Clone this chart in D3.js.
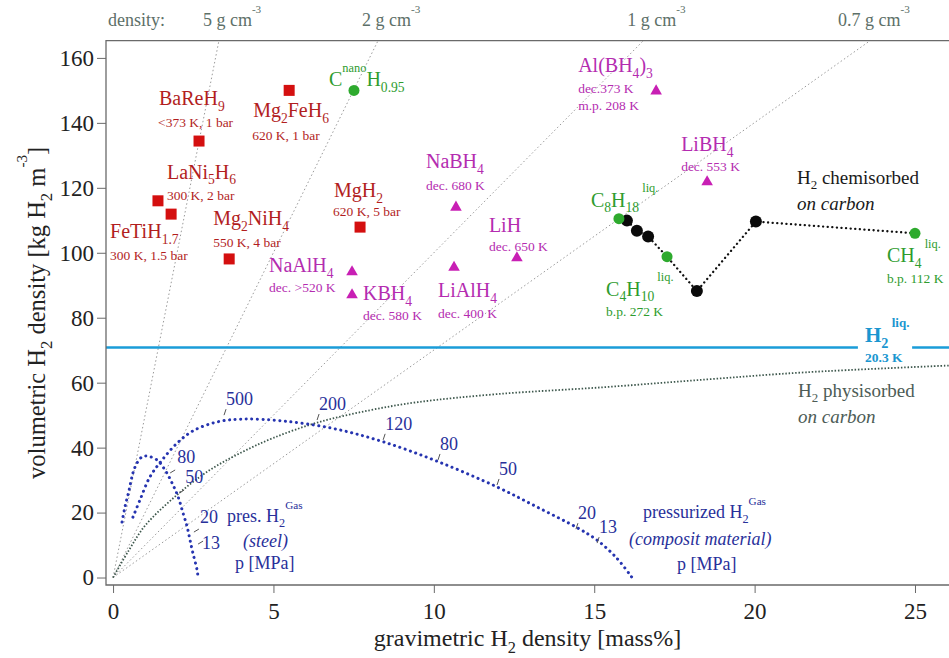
<!DOCTYPE html>
<html>
<head>
<meta charset="utf-8">
<script src="https://cdn.jsdelivr.net/npm/d3@7"></script>
<style>
  body { margin: 0; background: #fff; }
</style>
</head>
<body>
<div id="chart"></div>
<script>
// ---- data ----
const xTicks = [0, 5, 10, 15, 20, 25];
const yTicks = [0, 20, 40, 60, 80, 100, 120, 140, 160];

const densityLabels = ["5 g cm^{-3}", "2 g cm^{-3}", "1 g cm^{-3}", "0.7 g cm^{-3}"];
const densityTopX = [3.3, 8.26, 16.53, 23.6];   // where each iso-density line meets the top frame

const metalHydrides = [
  { name: "BaReH_{9}",    cond: ["<373 K, 1 bar"],  x: 2.68, y: 134.4 },
  { name: "Mg_{2}FeH_{6}", cond: ["620 K, 1 bar"],  x: 5.49, y: 150.0 },
  { name: "LaNi_{5}H_{6}", cond: ["300 K, 2 bar"],  x: 1.40, y: 116.0 },
  { name: "FeTiH_{1.7}",  cond: ["300 K, 1.5 bar"], x: 1.81, y: 111.9 },
  { name: "Mg_{2}NiH_{4}", cond: ["550 K, 4 bar"],  x: 3.62, y: 98.1 },
  { name: "MgH_{2}",      cond: ["620 K, 5 bar"],   x: 7.70, y: 107.9 }
];

const complexHydrides = [
  { name: "NaAlH_{4}",     cond: ["dec. >520 K"], x: 7.45, y: 94.1 },
  { name: "KBH_{4}",       cond: ["dec. 580 K"],  x: 7.45, y: 87.0 },
  { name: "NaBH_{4}",      cond: ["dec. 680 K"],  x: 10.69, y: 114.0 },
  { name: "LiAlH_{4}",     cond: ["dec. 400 K"],  x: 10.63, y: 95.5 },
  { name: "LiH",           cond: ["dec. 650 K"],  x: 12.59, y: 98.4 },
  { name: "Al(BH_{4})_{3}", cond: ["dec.373 K", "m.p. 208 K"], x: 16.93, y: 149.8 },
  { name: "LiBH_{4}",      cond: ["dec. 553 K"],  x: 18.52, y: 121.8 }
];

const hydrocarbons = [
  { name: "C^{nano}H_{0.95}",     cond: [],             x: 7.51, y: 150.0 },
  { name: "C_{8}H_{18}^{ liq.}",  cond: [],             x: 15.77, y: 110.5 },
  { name: "C_{4}H_{10}^{ liq.}",  cond: ["b.p. 272 K"], x: 17.27, y: 98.8 },
  { name: "CH_{4}^{ liq.}",       cond: ["b.p. 112 K"], x: 25.0, y: 106.0 }
];

const chemisorbedDots = [[16.02, 109.9], [16.33, 106.8], [16.68, 105.0], [18.2, 88.2], [20.04, 109.6]];
const chemisorbedPath = [[15.77, 110.5], [16.02, 109.9], [16.33, 106.8], [16.68, 105.0], [17.27, 98.8],
                         [18.2, 88.2], [20.04, 109.6], [25.0, 106.0]];

const physisorbed = [[0, 0], [0.5, 8.5], [1, 16], [2, 25.5], [3, 33], [4, 38.5], [5, 43], [6.4, 47.8],
                     [8, 51.5], [9.5, 54], [12, 56.5], [15.3, 58.6], [18.5, 61], [21.6, 63.2], [26.1, 65.3]];

const steelCurve = [[0.28, 17.1], [0.37, 21.7], [0.5, 26.9], [0.62, 32.2], [0.75, 35.3], [0.9, 37.1],
                    [1.06, 37.4], [1.37, 36.2], [1.62, 33.1], [1.84, 29.1], [2.03, 24.8], [2.18, 19.9],
                    [2.31, 15.6], [2.40, 11.5], [2.49, 7.5], [2.62, 2.3], [2.65, 0]];

const compositeCurve = [[0.62, 18.6], [0.84, 23.9], [1.15, 31], [1.53, 36.2], [2.0, 41.4], [2.5, 45.2],
                        [3.24, 47.9], [4.05, 48.8], [5.3, 48.2], [6.86, 45.9], [8.42, 41.8], [10.13, 35.7],
                        [11.97, 27.9], [13.3, 21.3], [14.46, 15.4], [15.09, 11.5], [15.7, 6], [16.18, 0]];

const steelPressures = ["80", "50", "20", "13"];
const steelPressureAt = [[1.78, 32.2], [2.06, 26.0], [2.52, 14.0], [2.65, 10.3]];
const compositePressures = ["500", "200", "120", "80", "50", "20", "13"];
const compositePressureAt = [[3.46, 50.0], [6.36, 48.5], [8.42, 42.4], [10.13, 36.2], [11.97, 28.5], [14.43, 14.9], [15.09, 10.6]];

const liquidH2 = 70.8;
const liquidH2Gap = [23.22, 24.91];

// ---- layout ----
const width = 949, height = 658;
const frame = { left: 106, right: 949, top: 40.7, bottom: 585 };
const serif = "'Liberation Serif', 'DejaVu Serif', 'Times New Roman', Times, serif";

// label offsets (px from marker): first = name, rest = condition lines
const labelOffsets = {
  "BaReH_{9}": [[-40, -36], [-41, -14]],
  "Mg_{2}FeH_{6}": [[-36, 27], [-37, 50]],
  "LaNi_{5}H_{6}": [[9, -22], [9, -1]],
  "FeTiH_{1.7}": [[-61, 24], [-61, 46]],
  "Mg_{2}NiH_{4}": [[-16, -34], [-16, -12]],
  "MgH_{2}": [[-26, -30], [-27, -11]],
  "NaAlH_{4}": [[-83, 0], [-83, 20]],
  "KBH_{4}": [[11, 5], [11, 25]],
  "NaBH_{4}": [[-30, -39], [-30, -17]],
  "LiAlH_{4}": [[-16, 30], [-16, 51]],
  "LiH": [[-28, -26], [-28, -7]],
  "Al(BH_{4})_{3}": [[-78, -19], [-78, 2], [-78, 19]],
  "LiBH_{4}": [[-26, -31], [-26, -11]],
  "C^{nano}H_{0.95}": [[-25, -4]],
  "C_{8}H_{18}^{ liq.}": [[-28, -12]],
  "C_{4}H_{10}^{ liq.}": [[-61, 39], [-61, 59]],
  "CH_{4}^{ liq.}": [[-28, 29], [-28, 50]]
};
const steelLabelOffsets = [[7, -10], [6, -10], [6, -9], [4, 5]];

const svg = d3.select("#chart").append("svg")
  .attr("width", width)
  .attr("height", height)
  .attr("font-family", serif);

const x = d3.scaleLinear().domain([-0.22, 26.06]).range([frame.left, frame.right]);
const y = d3.scaleLinear().domain([-2.3, 165.3]).range([frame.bottom, frame.top]);

// rich text: _{sub} and ^{sup}
function rich(t, str, size) {
  let shift = 0;
  const re = /([_^])\{([^}]*)\}|([^_^]+)/g;
  let m;
  while ((m = re.exec(str)) !== null) {
    let target = 0, fs = size, txt = m[3];
    if (m[1] === "_") { target = size * 0.28; fs = size * 0.68; txt = m[2]; }
    if (m[1] === "^") { target = -size * 0.72; fs = size * 0.62; txt = m[2]; }
    t.append("tspan").attr("dy", target - shift).attr("font-size", fs).text(txt);
    shift = target;
  }
  return t;
}

function label(px, py, str, size, color, opts = {}) {
  const t = svg.append("text")
    .attr("x", px).attr("y", py)
    .attr("fill", color)
    .attr("font-family", serif)
    .attr("font-size", size)
    .attr("text-anchor", opts.anchor || "start")
    .attr("font-style", opts.italic ? "italic" : null)
    .attr("font-weight", opts.bold ? "bold" : null);
  if (opts.rotate) t.attr("transform", `rotate(-90,${px},${py})`);
  return rich(t, str, size);
}

// ---- iso-density lines ----
svg.append("g")
  .selectAll("line")
  .data(densityTopX)
  .join("line")
  .attr("x1", x(0)).attr("y1", y(0))
  .attr("x2", d => x(d)).attr("y2", y.range()[1])
  .attr("stroke", "#9a9a9a")
  .attr("stroke-width", 1)
  .attr("stroke-dasharray", "1.5,2.5");

const line = d3.line().x(d => x(d[0])).y(d => y(d[1])).curve(d3.curveCatmullRom);

// physisorbed curve
svg.append("path")
  .datum(physisorbed)
  .attr("d", line)
  .attr("fill", "none")
  .attr("stroke", "#3d574c")
  .attr("stroke-width", 1.8)
  .attr("stroke-dasharray", "1.5,1.8");

// pressurized gas curves
[steelCurve, compositeCurve].forEach(c => {
  svg.append("path")
    .datum(c)
    .attr("d", line)
    .attr("fill", "none")
    .attr("stroke", "#2634b0")
    .attr("stroke-width", 3)
    .attr("stroke-linecap", "round")
    .attr("stroke-dasharray", "0.1,5.5");
});

// liquid H2
svg.append("g")
  .selectAll("line")
  .data([[x.domain()[0], liquidH2Gap[0]], [liquidH2Gap[1], x.domain()[1]]])
  .join("line")
  .attr("x1", d => x(d[0])).attr("x2", d => x(d[1]))
  .attr("y1", y(liquidH2)).attr("y2", y(liquidH2))
  .attr("stroke", "#1a9cd8")
  .attr("stroke-width", 2.5);

// chemisorbed
svg.append("path")
  .datum(chemisorbedPath)
  .attr("d", d3.line().x(d => x(d[0])).y(d => y(d[1])))
  .attr("fill", "none")
  .attr("stroke", "#111")
  .attr("stroke-width", 2.3)
  .attr("stroke-linecap", "round")
  .attr("stroke-dasharray", "0.1,4.5");

// ---- frame & axes ----
svg.append("path")
  .attr("d", `M${frame.right},${frame.top}H${frame.left}V${frame.bottom}H${frame.right}`)
  .attr("fill", "none")
  .attr("stroke", "#6a6a6a")
  .attr("stroke-width", 1.3);

svg.append("g")
  .attr("transform", `translate(${frame.left},0)`)
  .call(d3.axisLeft(y).tickValues(yTicks).tickSize(9).tickPadding(3))
  .attr("font-family", serif)
  .attr("font-size", 23)
  .call(g => g.select(".domain").remove())
  .call(g => g.selectAll("line").attr("stroke", "#6a6a6a"))
  .call(g => g.selectAll("text").attr("fill", "#222"));

svg.append("g")
  .attr("transform", `translate(0,${frame.bottom})`)
  .call(d3.axisBottom(x).tickValues(xTicks).tickSize(8).tickPadding(10))
  .attr("font-family", serif)
  .attr("font-size", 23)
  .call(g => g.select(".domain").remove())
  .call(g => g.selectAll("line").attr("stroke", "#6a6a6a"))
  .call(g => g.selectAll("text").attr("fill", "#222"));

label((frame.left + frame.right) / 2, 646, "gravimetric H_{2} density [mass%]", 24, "#222", { anchor: "middle" });
label(45, (frame.top + frame.bottom) / 2, "volumetric H_{2} density [kg H_{2} m^{-3}]", 24.5, "#222", { anchor: "middle", rotate: true });

// density labels on top
label(108, 26, "density:", 18, "#5d7068");
densityTopX.forEach((d, i) => {
  label(x(d) - 16 + (i === 3 ? -16 : 0), 26, densityLabels[i], 18, "#5d7068");
});

// ---- markers ----
svg.append("g")
  .selectAll("rect")
  .data(metalHydrides)
  .join("rect")
  .attr("x", d => x(d.x) - 5.5)
  .attr("y", d => y(d.y) - 5.5)
  .attr("width", 11).attr("height", 11)
  .attr("fill", "#d40f0f");

svg.append("g")
  .selectAll("path")
  .data(complexHydrides)
  .join("path")
  .attr("d", d3.symbol(d3.symbolTriangle).size(58))
  .attr("transform", d => `translate(${x(d.x)},${y(d.y)})`)
  .attr("fill", "#c81fb4");

svg.append("g")
  .selectAll("circle")
  .data(chemisorbedDots)
  .join("circle")
  .attr("cx", d => x(d[0])).attr("cy", d => y(d[1]))
  .attr("r", 6)
  .attr("fill", "#0a0a0a");

svg.append("g")
  .selectAll("circle")
  .data(hydrocarbons)
  .join("circle")
  .attr("cx", d => x(d.x)).attr("cy", d => y(d.y))
  .attr("r", 5.5)
  .attr("fill", "#2eaa2e");

// ---- compound labels ----
function compoundLabels(list, color) {
  list.forEach(d => {
    const off = labelOffsets[d.name];
    const px = x(d.x), py = y(d.y);
    label(px + off[0][0], py + off[0][1], d.name, 20, color);
    d.cond.forEach((c, i) => label(px + off[i + 1][0], py + off[i + 1][1], c, 13.5, color));
  });
}
compoundLabels(metalHydrides, "#b21e1e");
compoundLabels(complexHydrides, "#b42cb0");
compoundLabels(hydrocarbons, "#2e9c2e");

// ---- pressure ticks ----
const navy = "#28309a";
compositePressureAt.forEach((p, i) => {
  const px = x(p[0]), py = y(p[1]);
  svg.append("line").attr("x1", px).attr("y1", py).attr("x2", px + 2).attr("y2", py - 6)
    .attr("stroke", "#555").attr("stroke-width", 1);
  label(px + 2, py - 10, compositePressures[i], 18, navy);
});
steelPressureAt.forEach((p, i) => {
  const px = x(p[0]), py = y(p[1]);
  svg.append("line").attr("x1", px).attr("y1", py).attr("x2", px + 5).attr("y2", py - 3)
    .attr("stroke", "#555").attr("stroke-width", 1);
  label(px + steelLabelOffsets[i][0], py + steelLabelOffsets[i][1], steelPressures[i], 18, navy);
});

// ---- other annotations ----
label(227, 522, "pres. H_{2}^{Gas}", 18, navy);
label(243, 547, "(steel)", 18, navy, { italic: true });
label(235, 569, "p [MPa]", 18, navy);

label(643, 518, "pressurized H_{2}^{Gas}", 18, navy);
label(629, 545, "(composit material)", 18, navy, { italic: true });
label(677, 570, "p [MPa]", 18, navy);

label(797, 184, "H_{2} chemisorbed", 19, "#1a1a1a");
label(797, 210, "on carbon", 19, "#1a1a1a", { italic: true });

label(798, 397, "H_{2} physisorbed", 19, "#4d5c56");
label(798, 423, "on carbon", 19, "#4d5c56", { italic: true });

label(865, 342, "H_{2}^{ liq.}", 21, "#1a96d0", { bold: true });
label(865, 362, "20.3 K", 13.5, "#1a96d0", { bold: true });
</script>
</body>
</html>
